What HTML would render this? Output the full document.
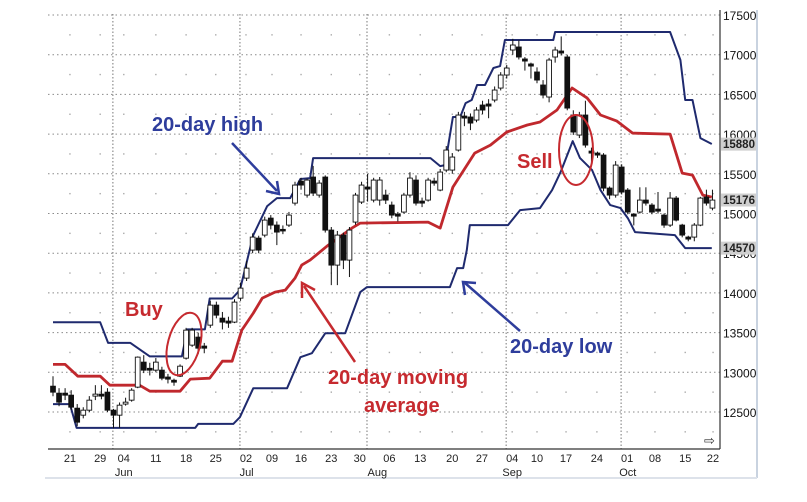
<!DOCTYPE html>
<html><head><meta charset="utf-8"><title>20-day channel chart</title>
<style>
html,body{margin:0;padding:0;background:#fff;}
svg{display:block;font-family:"Liberation Sans",Arial,sans-serif;}
</style></head>
<body>
<svg id="chart" width="807" height="502" viewBox="0 0 807 502" xmlns="http://www.w3.org/2000/svg">
<rect x="0" y="0" width="807" height="502" fill="#fff"/>
<line x1="757" y1="10" x2="757" y2="478" stroke="#c9d3e0" stroke-width="2"/>
<line x1="45" y1="478" x2="757" y2="478" stroke="#dde2ea" stroke-width="2"/>
<g id="grid"></g>
<g id="lines"></g>
<g id="candles"></g>
<g id="axes"></g>
<g id="annot">
  <text x="152" y="131" font-size="20" font-weight="bold" fill="#2e3d9c">20-day high</text>
  <line x1="232" y1="143" x2="277" y2="191" stroke="#2e3d9c" stroke-width="2.5"/>
  <polyline points="266,191 279,194 277,181" fill="none" stroke="#2e3d9c" stroke-width="2.5"/>
  <text x="125" y="316" font-size="20" font-weight="bold" fill="#c62a2f">Buy</text>
  <ellipse cx="184" cy="344" rx="16" ry="32" transform="rotate(15 184 344)" fill="none" stroke="#c62a2f" stroke-width="2"/>
  <text x="328" y="384" font-size="20" font-weight="bold" fill="#c62a2f">20-day moving</text>
  <text x="364" y="412" font-size="20" font-weight="bold" fill="#c62a2f">average</text>
  <line x1="355" y1="362" x2="304" y2="286" stroke="#c62a2f" stroke-width="2.5"/>
  <polyline points="302,298 302,283 315,290" fill="none" stroke="#c62a2f" stroke-width="2.5"/>
  <text x="510" y="353" font-size="20" font-weight="bold" fill="#2e3d9c">20-day low</text>
  <line x1="520" y1="331" x2="465" y2="283" stroke="#2e3d9c" stroke-width="2.5"/>
  <polyline points="465,295 463,282 476,283" fill="none" stroke="#2e3d9c" stroke-width="2.5"/>
  <text x="517" y="168" font-size="20" font-weight="bold" fill="#c62a2f">Sell</text>
  <ellipse cx="576" cy="150" rx="17" ry="35" fill="none" stroke="#c62a2f" stroke-width="2"/>
  <text x="704" y="445" font-size="13" fill="#333">⇨</text>
</g>
</svg>
<script>
const openV=[12825,12737,12737,12712,12548,12460,12523,12700,12725,12750,12523,12460,12600,12649,12813,13128,13050,13027,13027,12940,12900,12951,13178,13342,13443,13330,13594,13846,13682,13645,13632,13934,
14186,14539,14690,14728,14942,14854,14800,14854,15131,15408,15232,15459,15232,15459,14791,14350,14728,14413,14892,15144,15333,15169,15169,15232,15106,14993,15018,15232,15421,15156,15169,15408,15295,15547,15547,
15799,16227,16215,16177,16366,16379,16429,16580,16744,17059,17097,16946,16883,16782,16618,16467,16971,17046,16971,16240,15988,16240,15786,15761,15736,15320,15232,15585,15295,14993,15018,15169,15106,15055,14980,14854,15194,14854,14703,14703,14854,15207,15068];
const closeV=[12750,12624,12712,12561,12372,12523,12649,12725,12700,12523,12460,12586,12624,12775,13191,13027,13027,13128,12926,12914,12876,13077,13531,13531,13304,13304,13846,13720,13632,13620,13884,14060,
14312,14703,14539,14917,14854,14766,14780,14980,15358,15358,15421,15257,15383,14791,14350,14728,14413,14791,15232,15358,15308,15421,15421,15169,14980,14967,15232,15446,15131,15131,15421,15383,15522,15799,15711,
16240,16202,16139,16303,16303,16353,16555,16744,16832,17122,16971,16920,16857,16681,16492,16933,17059,17021,16328,16026,16240,15862,15761,15736,15320,15232,15610,15270,15018,14967,15169,15131,15018,15030,14854,15194,14917,14728,14678,14854,15194,15131,15169];
const highV=[12951,12800,12800,12775,12600,12560,12700,12838,12838,12800,12540,12620,12680,12800,13200,13216,13120,13180,13070,12980,12920,13100,13560,13560,13500,13370,13900,13890,13760,13700,13920,14130,
14400,14750,14720,14960,14980,14900,14850,15020,15400,15450,15440,15600,15420,15480,14830,14780,14760,14830,15260,15400,15500,15450,15460,15300,15150,15020,15260,15520,15480,15200,15450,15450,15560,15850,15760,
16280,16280,16260,16340,16420,16440,16600,16780,16870,17200,17180,16970,16900,16840,16680,16960,17100,17230,17000,16300,16280,16420,15830,15780,15760,15340,15660,15620,15320,15000,15330,15330,15130,15270,15000,15270,15220,14870,14720,14880,15210,15300,15300];
const lowV=[12699,12573,12650,12523,12321,12420,12500,12650,12660,12500,12296,12300,12580,12630,12800,12990,12960,13000,12900,12860,12830,12940,13160,13320,13230,13240,13560,13680,13540,13560,13620,13900,
14150,14500,14500,14700,14800,14602,14740,14830,15100,15300,15200,15220,15200,14760,14098,14098,14300,14200,14860,15120,15150,15140,15100,15120,14940,14900,15000,15200,15100,15080,15150,15350,15280,15520,15500,
15780,16100,16050,16150,16250,16200,16400,16550,16700,17000,16940,16800,16700,16640,16450,16400,16900,16990,16300,15990,15950,15830,15600,15700,15280,15180,15200,15240,14990,14850,15000,15100,14990,15000,14820,14830,14900,14700,14650,14650,14840,15100,15040];

const highDay=[0,7.8,9.1,12.8,16.0,21.3,22.2,25.1,25.9,29.6,30.9,33.1,35.4,37.0,39.2,40.9,42.5,43.0,62.4,64.0,64.8,66.1,67.3,68.2,69.2,70.1,71.4,72.8,73.9,74.7,82.7,83.0,102.0,103.7,104.5,105.7,107.0,108.9];
const highLine=[13630,13630,13370,13370,13200,13200,13540,13540,13930,13930,14035,14728,15093,15194,15194,15434,15446,15698,15698,15597,15610,16215,16215,16391,16429,16618,16618,16832,16857,17185,17185,17286,17286,16933,16429,16429,15950,15875];
const lowDay=[0,2.8,3.9,23.5,24.0,29.8,30.9,33.1,38.7,40.9,42.8,45.0,48.3,50.8,51.9,65.6,66.8,67.8,68.4,68.9,75.2,77.2,80.5,82.5,83.9,85.9,87.1,89.1,90.5,92.1,93.8,95.0,96.2,102.8,104.5,108.9];
const lowLine=[12600,12600,12300,12300,12350,12350,12435,12800,12800,13190,13240,13493,13493,14010,14073,14073,14312,14312,14539,14854,14854,15043,15068,15295,15522,15912,15698,15547,15295,15106,15068,14942,14766,14728,14564,14564];
const maDay=[0,2.0,4.1,7.8,9.4,14.3,16.0,21.0,22.7,25.9,28.0,29.6,31.2,33.1,34.6,36.7,38.4,40.0,41.1,42.5,45.5,49.4,50.8,62.0,64.0,66.1,69.7,72.3,75.0,78.4,80.5,83.3,85.8,88.3,90.5,93.2,95.8,102.0,104.0,105.7,107.4,108.9];
const maLine=[13100,13100,12951,12951,12838,12838,12762,12762,12914,12926,13140,13140,13531,13745,13934,14010,14035,14186,14350,14413,14602,14816,14879,14892,14816,15333,15761,15862,16026,16114,16152,16303,16580,16454,16240,16164,16013,16000,15509,15484,15232,15207];

const yTicks=[17500,17000,16500,16000,15500,15000,14500,14000,13500,13000,12500];
const dayLabels=["21","29","04","11","18","25","02","09","16","23","30","06","13","20","27","04","10","17","24","01","08","15","22"];
const dayLabelPos=[2.8,7.8,11.7,17.0,22.0,26.9,31.9,36.2,41.0,46.0,50.7,55.6,60.7,66.0,70.9,75.9,80.0,84.8,89.9,94.9,99.5,104.5,109.1];
const monthLabels=["Jun","Jul","Aug","Sep","Oct"];
const monthLabelPos=[11.7,32.0,53.6,75.9,95.0];
const monthGridPos=[9.9,30.9,51.9,74.9,93.9];
const tagValues=[15880,15176,14570];

const NS="http://www.w3.org/2000/svg";
const X0=53, DX=6.05, PL=48, PR=720, PT=10, PB=449;
function xs(d){return X0+d*DX;}
function ys(v){return 15+(17500-v)*0.0794;}
function mk(tag,attrs,parent){const e=document.createElementNS(NS,tag);for(const k in attrs)e.setAttribute(k,attrs[k]);parent.appendChild(e);return e;}

const grid=document.getElementById('grid');
yTicks.forEach(v=>{
  const l=mk('line',{x1:PL,x2:PR,y1:ys(v),y2:ys(v),stroke:'#8a8a8a','stroke-width':1,'stroke-dasharray':'1.5,3'},grid);
  
  
});
for(let k=0;k<yTicks.length;k++){
  const v=yTicks[k]-250;
  dayLabelPos.forEach(p=>{
    const d=mk('rect',{x:xs(p)-0.7,y:ys(v)-0.7,width:1.4,height:1.4,fill:'#aaa'},grid);
    
    
  });
}
monthGridPos.forEach(p=>{
  const l=mk('line',{x1:xs(p),x2:xs(p),y1:PT+4,y2:PB,stroke:'#777','stroke-width':1,'stroke-dasharray':'1.5,2'},grid);
  
  
});

const lines=document.getElementById('lines');
function drawLine(days,vals,color,width,name){
  const pts=days.map((d,i)=>xs(d).toFixed(1)+','+ys(vals[i]).toFixed(1)).join(' ');
  const p=mk('polyline',{points:pts,fill:'none',stroke:color,'stroke-width':width,'stroke-linejoin':'round'},lines);
  
  
}
drawLine(highDay,highLine,'#1f2a6e',2,'line-20-day-high');
drawLine(lowDay,lowLine,'#1f2a6e',2,'line-20-day-low');
drawLine(maDay,maLine,'#c0282d',2.8,'line-20-day-moving-average');

const cg=document.getElementById('candles');
openV.forEach((o,i)=>{
  const c=closeV[i],x=xs(i);
  const g=mk('g',{},cg);
  
  
  mk('line',{x1:x,x2:x,y1:ys(highV[i]),y2:ys(lowV[i]),stroke:'#111','stroke-width':1},g);
  const top=ys(Math.max(o,c)),bot=ys(Math.min(o,c));
  const h=Math.max(bot-top,1.5);
  mk('rect',{x:x-2.4,y:top,width:4.8,height:h,fill:c>=o?'#fff':'#111',stroke:'#111','stroke-width':0.9},g);
});

const ax=document.getElementById('axes');
let e=mk('line',{x1:PR,x2:PR,y1:PT,y2:PB,stroke:'#333','stroke-width':1.2},ax);


e=mk('line',{x1:PL,x2:PR,y1:PB,y2:PB,stroke:'#333','stroke-width':1.2},ax);


yTicks.forEach(v=>{
  const t=mk('text',{x:PR+3,y:ys(v)+5,'font-size':12,fill:'#111'},ax);
  t.textContent=String(v);
  
  
});
tagValues.forEach(v=>{
  const r=mk('rect',{x:PR+1,y:ys(v)-6,width:35,height:13,fill:'#cfcfcf'},ax);
  
  
  const t=mk('text',{x:PR+3,y:ys(v)+4.5,'font-size':11.5,'font-weight':'bold',fill:'#222'},ax);
  t.textContent=String(v);
  
  
});
dayLabels.forEach((s,i)=>{
  const t=mk('text',{x:xs(dayLabelPos[i]),y:462,'font-size':11,'text-anchor':'middle',fill:'#222'},ax);
  t.textContent=s;
  
  
});
monthLabels.forEach((s,i)=>{
  const t=mk('text',{x:xs(monthLabelPos[i]),y:476,'font-size':11,'text-anchor':'middle',fill:'#222'},ax);
  t.textContent=s;
  
  
});
</script>
</body></html>
